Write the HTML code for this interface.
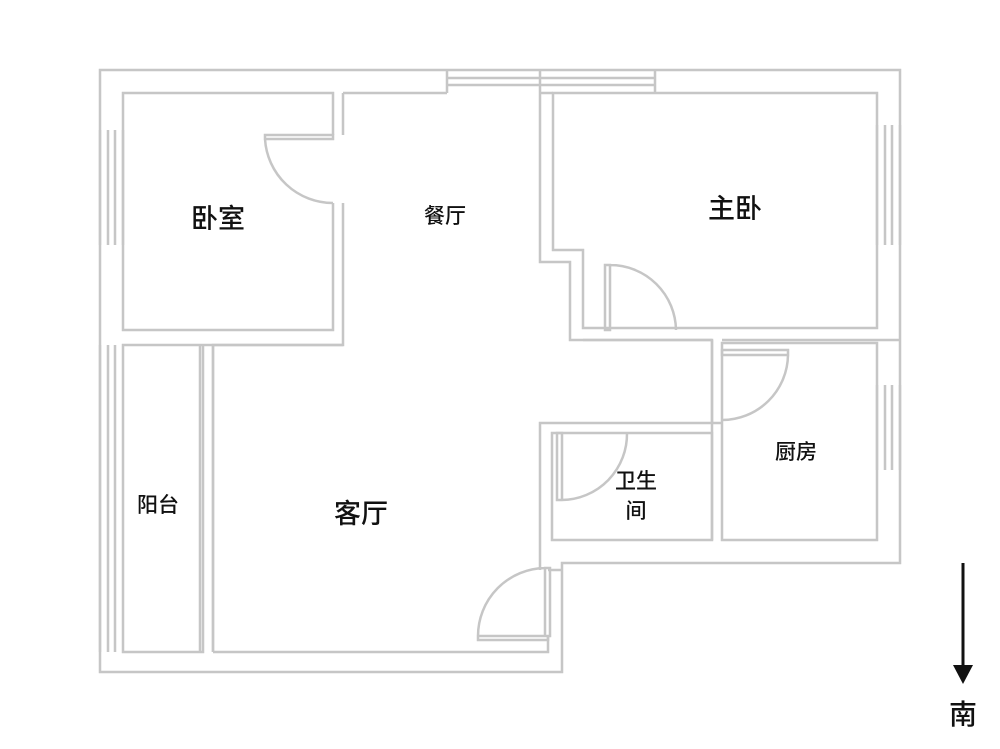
<!DOCTYPE html>
<html><head><meta charset="utf-8"><style>
html,body{margin:0;padding:0;background:#fff;}
svg{display:block}
text{font-family:"Liberation Sans","Noto Sans CJK SC",sans-serif;fill:#111;text-anchor:middle;font-weight:500}
</style></head><body>
<svg width="1000" height="749" viewBox="0 0 1000 749" xmlns="http://www.w3.org/2000/svg">
<g fill="none" stroke="#c6c6c6" stroke-width="2.5" stroke-linejoin="miter">
<path d="M100 70 H900 V563 H562 V672 H100 Z" fill="#fff"/>
<!-- bedroom -->
<path d="M333 135 V93 H123 V330 H333 V203"/>
<path d="M343 93 V135 M343 203 V345 H213 V652 M203 345 V652 H123 V345 H200"/>
<path d="M200 345 V652 M213 345 V652"/>
<path d="M200 345 H213"/>
<path d="M343 93 H447 M540 93 V262 H570 V340 H712 V423 H540 V570"/>
<!-- master bedroom -->
<path d="M553 93 V250 H583 V328 H877 V93 Z"/>
<path d="M583 340 H712 M722 340 H900"/>
<!-- kitchen -->
<path d="M722 343 H877 V540 H722 Z"/>
<path d="M712 340 V540 M712 423 H722"/>
<!-- bathroom -->
<path d="M552 433 H712 V540 H552 Z"/>
<path d="M213 652 H548 V637 M548 570 H562 M213 345 H343"/>
<!-- top windows -->
<path d="M447 70 V93 M540 70 V93 M655 70 V93 M447 78 H655 M447 85 H655 M540 93 H553"/>
<!-- left windows -->
<path d="M100 130 V245 M123 130 V245 M108 130 V245 M115 130 V245 M100 345 V652 M108 345 V652 M115 345 V652"/>
<!-- right windows -->
<path d="M877 125 V245 M900 125 V245 M885 125 V245 M892 125 V245 M877 385 V470 M900 385 V470 M885 385 V470 M892 385 V470"/>
<!-- doors -->
<path d="M265 135 H333 V139 H265 Z M265 139 A68 68 0 0 0 333 203"/>
<path d="M605 265 H610 V330 H605 Z M610 265 A66 66 0 0 1 676 330"/>
<path d="M722 350 H788 V355 H722 Z M788 355 A66 66 0 0 1 722 420"/>
<path d="M557 433 H562 V500 H557 Z M562 500 A66 66 0 0 0 627 433"/>
<path d="M545 568 H550 V636 H545 Z M478 636 H548 V640 H478 Z M545 568 A68 68 0 0 0 478 636"/>
</g>
<line x1="963" y1="563" x2="963" y2="668" stroke="#111" stroke-width="3"/>
<polygon points="953,665 973,665 963,684" fill="#111"/>
<text x="963" y="724" font-size="28">南</text>
<text x="218" y="228" font-size="27">卧室</text>
<text x="445" y="223" font-size="21">餐厅</text>
<text x="735" y="218" font-size="27">主卧</text>
<text x="796" y="459" font-size="21">厨房</text>
<text x="636" y="488" font-size="21">卫生</text>
<text x="636" y="518" font-size="21">间</text>
<text x="158" y="512" font-size="21">阳台</text>
<text x="361" y="523" font-size="27">客厅</text>
</svg>
</body></html>
